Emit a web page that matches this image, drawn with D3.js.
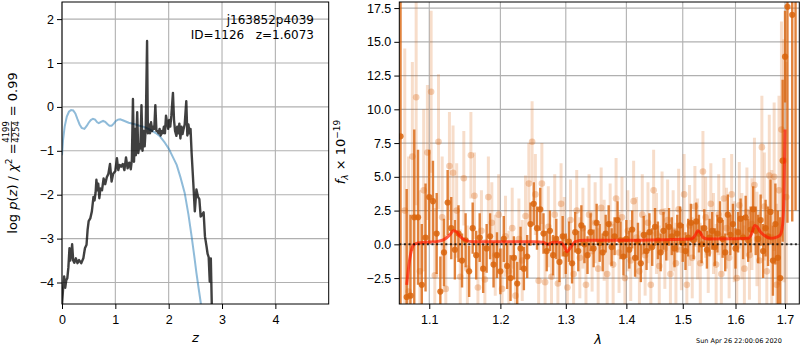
<!DOCTYPE html>
<html>
<head>
<meta charset="utf-8">
<script src="https://cdn.jsdelivr.net/npm/d3@7"></script>
<style>
  body { margin: 0; background: #fff; }
  svg { font-family: "DejaVu Sans", sans-serif; }
  .tick text { font-size: 12.5px; fill: #000; }
</style>
</head>
<body>
<svg id="fig" width="800" height="350"></svg>
<script>
// ---- left panel: log p(z) ----
const zBlack = [0.00,0.02,0.04,0.06,0.08,0.10,0.12,0.14,0.155,0.17,0.19,0.21,0.23,0.26,0.29,0.32,0.36,0.40,0.43,0.46,
  0.48,0.50,0.53,0.56,0.59,0.61,0.63,0.645,0.665,0.68,0.70,0.72,0.75,0.78,0.81,0.84,0.87,0.90,0.93,0.96,
  1.00,1.03,1.055,1.08,1.11,1.14,1.17,1.20,1.23,1.26,1.29,1.31,1.33,1.35,1.37,1.385,1.41,1.43,1.45,1.47,
  1.49,1.51,1.53,1.55,1.57,1.595,1.61,1.63,1.65,1.67,1.69,1.71,1.73,1.75,1.77,1.79,1.81,1.83,1.85,1.87,
  1.89,1.91,1.93,1.95,1.97,1.99,2.01,2.03,2.05,2.08,2.10,2.12,2.145,2.16,2.18,2.20,2.22,2.24,2.26,2.28,
  2.30,2.33,2.35,2.37,2.39,2.41,2.43,2.46,2.49,2.52,2.55,2.575,2.60,2.63,2.655,2.68,2.71,2.73,2.75,2.77,
  2.79,2.81]
const lnpBlack = [-4.5,-4.15,-3.86,-4.12,-3.95,-3.9,-3.65,-3.22,-3.5,-3.4,-3.13,-3.5,-3.55,-3.45,-3.56,-3.49,-3.56,-3.45,-3.22,-3.14,
  -2.8,-2.6,-2.54,-2.38,-2.05,-2.13,-1.95,-1.66,-1.9,-1.75,-2.08,-1.86,-1.9,-1.63,-1.76,-1.6,-1.52,-1.3,-1.7,-1.52,
  -1.46,-1.17,-1.44,-1.32,-1.36,-1.3,-1.44,-1.15,-1.4,-1.27,-1.42,-1.2,0.18,-1.25,-0.5,-1.1,-0.12,-1.05,-0.85,-0.95,
  0.04,-1.0,-0.55,-0.9,-0.45,1.5,-0.6,-0.4,-0.6,-0.35,-0.55,-0.45,-0.5,0.04,-0.55,-0.55,-0.6,-0.5,-0.65,-0.55,
  -0.6,-0.45,-0.6,-0.2,-0.35,-0.5,-0.3,-0.45,-0.2,0.32,-0.3,-0.55,-0.66,-0.45,-0.6,-0.38,-0.72,-0.45,-0.62,-0.5,
  -0.4,0.13,-0.65,-0.4,-0.6,-0.5,-1.05,-1.7,-2.38,-1.88,-2.05,-2.1,-2.5,-2.45,-2.4,-2.95,-3.18,-3.35,-3.42,-3.98,
  -3.45,-4.6]
const zBlue = [0,0.02,0.05,0.09,0.13,0.17,0.21,0.25,0.29,0.33,0.37,0.42,0.46,0.50,0.54,0.58,0.62,0.66,0.69,0.73,
  0.77,0.81,0.85,0.89,0.93,0.97,1.01,1.05,1.09,1.15,1.25,1.35,1.45,1.55,1.65,1.75,1.83,1.92,2.0,2.07,
  2.15,2.22,2.30,2.37,2.43,2.48,2.52,2.56,2.60,2.62]
const lnpBlue = [-1.1,-0.75,-0.45,-0.22,-0.11,-0.07,-0.08,-0.15,-0.28,-0.40,-0.48,-0.5,-0.44,-0.36,-0.3,-0.27,-0.29,-0.35,-0.37,-0.34,
  -0.32,-0.34,-0.39,-0.43,-0.43,-0.38,-0.32,-0.29,-0.28,-0.31,-0.36,-0.39,-0.43,-0.46,-0.52,-0.59,-0.66,-0.8,-0.95,-1.12,
  -1.32,-1.6,-1.96,-2.45,-2.95,-3.4,-3.78,-4.12,-4.45,-4.65]
const zTicks = [0, 1, 2, 3, 4]
const lnpTicks = [-4, -3, -2, -1, 0, 1, 2]

// ---- right panel: spectrum ----
const darkLam = [1.062,1.070,1.075,1.080,1.085,1.090,1.095,1.100,1.105,1.110,1.115,1.120,1.125,1.130,1.135,1.140,1.145,1.150,1.155,1.160,
  1.165,1.170,1.175,1.180,1.185,1.190,1.195,1.200,1.205,1.210,1.215,1.220,1.225,1.230,1.235,1.240,1.245,1.250,1.255,1.260,
  1.265,1.270,1.275,1.280,1.285,1.290,1.295,1.300,1.305,1.310,1.315,1.320,1.325,1.330,1.335,1.340,1.345,1.350,1.355,1.360,
  1.365,1.370,1.375,1.380,1.385,1.390,1.395,1.400,1.405,1.410,1.415,1.420,1.425,1.430,1.435,1.440,1.445,1.450,1.455,1.460,
  1.465,1.470,1.475,1.480,1.485,1.490,1.495,1.500,1.505,1.510,1.515,1.520,1.525,1.530,1.535,1.540,1.545,1.550,1.555,1.560,
  1.565,1.570,1.575,1.580,1.585,1.590,1.595,1.600,1.605,1.610,1.615,1.620,1.625,1.630,1.635,1.640,1.645,1.650,1.655,1.660,
  1.665,1.670,1.675,1.680,1.685,1.690,1.695,1.700,1.705,1.715,1.722]
const darkFlux = [8.0,-3.9,-3.8,2.0,2.0,-3.0,0.5,3.5,3.2,0.8,-3.5,-0.6,3.1,1.2,-0.4,0.8,-1.2,0.3,-2.0,1.2,
  -0.8,0.5,-1.8,-0.3,0.6,-1.5,-0.8,-2.0,0.4,-1.6,-2.5,-1.0,-2.9,-0.3,-1.8,-0.9,1.5,3.0,1.2,2.6,
  0.8,-0.5,1.0,-0.8,0.4,-1.3,0.6,-0.7,0.2,-1.4,0.9,-0.5,1.4,0.0,-0.8,0.9,-0.3,1.6,0.1,-0.6,
  0.8,1.5,-0.2,0.6,1.8,0.3,-0.9,0.4,-0.4,1.1,-1.0,0.2,-1.4,0.7,-0.5,0.9,-0.2,1.3,0.3,-0.6,
  1.0,0.2,1.3,0.6,-0.3,0.8,1.4,0.1,-0.5,0.5,1.6,0.3,1.7,0.8,0.0,1.2,-0.4,0.5,1.0,-0.2,
  0.8,1.8,0.4,-0.6,2.2,0.7,1.5,-0.3,0.9,1.9,0.5,2.0,0.3,1.1,2.6,1.0,0.4,1.8,-0.5,1.2,
  0.6,2.4,-1.2,1.5,-1.0,-2.5,6.2,13.9,17.6,17.0,18.5]
const darkErr = [30,8,6,6.5,5,4.5,4,3.5,3,3,2.6,2.5,2.4,2.3,2.2,2.1,2.0,2.0,1.9,1.9,
  1.8,1.8,1.8,1.8,1.7,1.7,1.7,1.7,1.7,1.7,1.7,1.6,1.6,1.6,1.6,1.6,1.6,1.6,1.6,1.6,
  1.5,1.5,1.5,1.5,1.5,1.5,1.5,1.5,1.5,1.5,1.5,1.5,1.5,1.4,1.4,1.4,1.4,1.4,1.4,1.4,
  1.4,1.4,1.4,1.4,1.4,1.4,1.4,1.4,1.4,1.4,1.4,1.4,1.4,1.4,1.4,1.4,1.4,1.4,1.4,1.4,
  1.4,1.4,1.4,1.4,1.4,1.4,1.4,1.4,1.4,1.4,1.4,1.4,1.4,1.4,1.4,1.4,1.4,1.4,1.4,1.4,
  1.4,1.4,1.4,1.4,1.5,1.5,1.5,1.5,1.5,1.5,1.6,1.6,1.6,1.7,1.7,1.8,1.8,1.9,2.0,2.1,
  2.2,2.4,2.6,3.0,3.5,4.5,6,3.4,16,15.3,16]

const lightLam = [1.0675,1.0725,1.0775,1.0825,1.0875,1.0925,1.0975,1.1025,1.1075,1.1125,1.1175,1.1225,1.1275,1.1325,1.1375,1.1425,1.1475,1.1525,1.1575,1.1625,
  1.1675,1.1725,1.1775,1.1825,1.1875,1.1925,1.1975,1.2025,1.2075,1.2125,1.2175,1.2225,1.2275,1.2325,1.2375,1.2425,1.2475,1.2525,1.2575,1.2625,
  1.2675,1.2725,1.2775,1.2825,1.2875,1.2925,1.2975,1.3025,1.3075,1.3125,1.3175,1.3225,1.3275,1.3325,1.3375,1.3425,1.3475,1.3525,1.3575,1.3625,
  1.3675,1.3725,1.3775,1.3825,1.3875,1.3925,1.3975,1.4025,1.4075,1.4125,1.4175,1.4225,1.4275,1.4325,1.4375,1.4425,1.4475,1.4525,1.4575,1.4625,
  1.4675,1.4725,1.4775,1.4825,1.4875,1.4925,1.4975,1.5025,1.5075,1.5125,1.5175,1.5225,1.5275,1.5325,1.5375,1.5425,1.5475,1.5525,1.5575,1.5625,
  1.5675,1.5725,1.5775,1.5825,1.5875,1.5925,1.5975,1.6025,1.6075,1.6125,1.6175,1.6225,1.6275,1.6325,1.6375,1.6425,1.6475,1.6525,1.6575,1.6625,
  1.6675,1.6725,1.6775,1.6825,1.6875,1.6925,1.6975,1.7025]
const lightFlux = [2.5,-3.5,6.5,10.9,-2.0,4.0,6.8,11.3,-2.3,7.6,2.0,-3.3,5.8,5.3,2.5,-2.4,4.9,-1.8,6.6,3.6,
  -3.2,1.0,-2.6,3.5,1.6,-0.8,2.2,-3.3,0.6,-2.0,1.2,-3.8,0.4,-1.2,2.1,4.5,7.6,3.7,-2.7,4.5,
  -2.8,1.3,-2.4,2.2,-2.9,3.0,0.5,-3.2,1.8,-2.2,2.5,-1.0,1.2,-3.0,2.2,-0.5,1.6,-1.8,2.7,0.3,
  -2.2,1.5,-1.5,3.4,-0.6,2.0,-2.5,1.0,-1.2,3.2,0.5,-2.0,2.2,-0.8,1.6,-3.0,4.0,0.8,-1.6,2.4,
  -0.3,1.8,-2.2,1.0,-1.4,2.6,-0.4,3.7,-3.0,1.4,-1.0,2.8,0.4,-1.4,5.4,2.0,-0.6,3.0,0.8,-1.5,
  2.2,-2.2,3.4,1.2,-1.0,3.7,0.2,-2.5,2.9,0.6,-1.8,2.4,-0.8,1.5,4.4,0.4,-1.2,7.2,2.8,-2.0,
  5.1,0.5,5.0,-3.0,4.0,8.5,6.2,3.5]
const lightErr = [12,10,7,8,6,6,5,6,5,5,4.5,4,4,3.5,3.5,3.5,3.5,3.2,3.2,3.2,
  3.2,3,3,3,3,3,3,3,3,3,3,3,3,3,3,3,3,3,3,3,
  3,3,3,3,3,3,3,3,3,3,3,3,3,3,3,3,3,3,3,3,
  3,3,3,3,3,3,3,3,3,3,3,3,3,3,3,3,3,3,3,3,
  3,3,3,3,3,3,3,3,3,3,3,3,3,3,3,3,3,3,3,3,
  3,3,3,3,3,3,3,3.2,3.2,3.2,3.2,3.3,3.3,3.4,3.5,3.5,3.6,3.8,4,4.2,
  4.5,5,5.5,6,7,8,9,10]

const modelLam = [1.070,1.073,1.076,1.080,1.085,1.095,1.110,1.120,1.128,1.133,1.137,1.142,1.150,1.160,1.200,1.250,1.265,1.272,1.280,1.290,
  1.297,1.302,1.308,1.315,1.330,1.400,1.500,1.515,1.522,1.528,1.533,1.538,1.545,1.600,1.625,1.632,1.638,1.643,1.650,1.660,
  1.670,1.680,1.690,1.695,1.698,1.700]
const modelFlux = [-3.0,-1.5,-0.5,0.0,0.1,0.15,0.2,0.35,0.7,1.0,0.95,0.6,0.3,0.2,0.2,0.2,0.15,0.0,0.15,0.15,
  -0.1,-0.55,-0.2,0.2,0.3,0.3,0.38,0.4,0.6,1.0,0.85,0.5,0.4,0.42,0.45,0.8,1.4,1.3,0.9,0.6,
  0.45,0.5,0.7,1.5,4.0,8.5]
const lamTicks = [1.1, 1.2, 1.3, 1.4, 1.5, 1.6, 1.7]
const fluxTicks = [-2.5, 0, 2.5, 5, 7.5, 10, 12.5, 15, 17.5]

const svg = d3.select('#fig')
const gridColor = '#b0b0b0'
const orange = '#d9640c'

// panel boxes
const L = { x: 62, y: 2, w: 266.7, h: 302 }
const R = { x: 399.3, y: 2, w: 400, h: 302 }

const xL = d3.scaleLinear().domain([0, 5]).range([L.x, L.x + L.w])
const yL = d3.scaleLinear().domain([-4.49, 2.39]).range([L.y + L.h, L.y])
const xR = d3.scaleLog().domain([1.0604, 1.7299]).range([R.x, R.x + R.w])
const yR = d3.scaleLinear().domain([-4.42, 17.95]).range([R.y + R.h, R.y])

const defs = svg.append('defs')
defs.append('clipPath').attr('id', 'clipL').append('rect')
  .attr('x', L.x).attr('y', L.y).attr('width', L.w).attr('height', L.h)
defs.append('clipPath').attr('id', 'clipR').append('rect')
  .attr('x', R.x).attr('y', R.y).attr('width', R.w).attr('height', R.h)

function grid(box, xs, ys, xt, yt) {
  const g = svg.append('g').attr('stroke', gridColor).attr('stroke-width', 1.1)
  g.selectAll('.gx').data(xt).enter().append('line')
    .attr('x1', d => xs(d)).attr('x2', d => xs(d))
    .attr('y1', box.y).attr('y2', box.y + box.h)
  g.selectAll('.gy').data(yt).enter().append('line')
    .attr('y1', d => ys(d)).attr('y2', d => ys(d))
    .attr('x1', box.x).attr('x2', box.x + box.w)
}

function axes(box, xs, ys, xt, yt, xfmt, yfmt) {
  const ax = svg.append('g').attr('transform', `translate(0,${box.y + box.h})`)
    .call(d3.axisBottom(xs).tickValues(xt).tickFormat(xfmt).tickSizeOuter(0).tickSize(5).tickPadding(6))
  const ay = svg.append('g').attr('transform', `translate(${box.x},0)`)
    .call(d3.axisLeft(ys).tickValues(yt).tickFormat(yfmt).tickSizeOuter(0).tickSize(5).tickPadding(3))
  ax.select('.domain').remove()
  ay.select('.domain').remove()
  ax.selectAll('.tick text').attr('font-family', null).attr('font-size', null)
  ay.selectAll('.tick text').attr('font-family', null).attr('font-size', null)
  svg.append('rect').attr('x', box.x).attr('y', box.y).attr('width', box.w).attr('height', box.h)
    .attr('fill', 'none').attr('stroke', '#000').attr('stroke-width', 1)
}

// ---------- left panel ----------
grid(L, xL, yL, zTicks, lnpTicks)
const lineL = d3.line().x(d => xL(d[0])).y(d => yL(d[1]))
const gL = svg.append('g').attr('clip-path', 'url(#clipL)')
gL.append('path').datum(d3.zip(zBlue, lnpBlue)).attr('d', lineL)
  .attr('fill', 'none').attr('stroke', '#1f77b4').attr('stroke-opacity', 0.5).attr('stroke-width', 2)
gL.append('path').datum(d3.zip(zBlack, lnpBlack)).attr('d', lineL)
  .attr('fill', 'none').attr('stroke', '#000').attr('stroke-opacity', 0.75).attr('stroke-width', 2.4)
  .attr('stroke-linejoin', 'round')
axes(L, xL, yL, zTicks, lnpTicks, d3.format('d'), d3.format('d'))

svg.append('text').attr('x', 314).attr('y', 24).attr('text-anchor', 'end')
  .attr('font-size', 12).text('j163852p4039')
svg.append('text').attr('x', 314).attr('y', 39).attr('text-anchor', 'end')
  .attr('font-size', 12).style('white-space', 'pre').text('ID=1126   z=1.6073')

svg.append('text').attr('x', xL(2.5)).attr('y', 342).attr('text-anchor', 'middle')
  .attr('font-size', 13).attr('font-style', 'italic').text('z')

// left y label (rotated, with fraction)
const yl = svg.append('g').attr('transform', 'translate(17,153) rotate(-90)')
const t1 = yl.append('text').attr('font-size', 13).attr('x', 0).attr('y', 0)
t1.append('tspan').text('log ')
t1.append('tspan').attr('font-style', 'italic').text('p')
t1.append('tspan').text('(')
t1.append('tspan').attr('font-style', 'italic').text('z')
t1.append('tspan').text(') / ')
t1.append('tspan').attr('font-style', 'italic').text('χ')
t1.append('tspan').attr('font-size', 9).attr('dy', -5).text('2')
t1.append('tspan').attr('dy', 5).text(' = ')
const w1 = t1.node().getComputedTextLength()
const fw = 21
const fx = w1 + 1
yl.append('text').attr('x', fx + fw / 2).attr('y', -7.6).attr('text-anchor', 'middle')
  .attr('font-size', 8.5).text('4199')
yl.append('text').attr('x', fx + fw / 2).attr('y', 1.6).attr('text-anchor', 'middle')
  .attr('font-size', 8.5).text('4254')
yl.append('line').attr('x1', fx).attr('x2', fx + fw).attr('y1', -5.6).attr('y2', -5.6)
  .attr('stroke', '#000').attr('stroke-width', 0.8)
const t2 = yl.append('text').attr('font-size', 13).attr('x', fx + fw + 1).attr('y', 0)
  .style('white-space', 'pre').text(' = 0.99')
const total = fx + fw + 1 + t2.node().getComputedTextLength()
yl.selectAll('text, line').attr('transform', `translate(${-total / 2},0)`)

// ---------- right panel ----------
grid(R, xR, yR, lamTicks, fluxTicks)
const gR = svg.append('g').attr('clip-path', 'url(#clipR)')

const light = d3.zip(lightLam, lightFlux, lightErr)
gR.append('g').selectAll('line').data(light).enter().append('line')
  .attr('x1', d => xR(d[0])).attr('x2', d => xR(d[0]))
  .attr('y1', d => yR(d[1] - d[2])).attr('y2', d => yR(d[1] + d[2]))
  .attr('stroke', orange).attr('stroke-opacity', 0.22).attr('stroke-width', 3)
gR.append('g').selectAll('circle').data(light).enter().append('circle')
  .attr('cx', d => xR(d[0])).attr('cy', d => yR(d[1])).attr('r', 3.3)
  .attr('fill', orange).attr('fill-opacity', 0.3)

const dark = d3.zip(darkLam, darkFlux, darkErr)
gR.append('g').selectAll('line').data(dark).enter().append('line')
  .attr('x1', d => xR(d[0])).attr('x2', d => xR(d[0]))
  .attr('y1', d => yR(d[1] - d[2])).attr('y2', d => yR(d[1] + d[2]))
  .attr('stroke', orange).attr('stroke-opacity', 0.8).attr('stroke-width', 2.4)
gR.append('g').selectAll('circle').data(dark).enter().append('circle')
  .attr('cx', d => xR(d[0])).attr('cy', d => yR(d[1])).attr('r', 3.1)
  .attr('fill', orange).attr('fill-opacity', 0.85)

const lineR = d3.line().x(d => xR(d[0])).y(d => yR(d[1])).curve(d3.curveMonotoneX)
gR.append('path').datum(d3.zip(modelLam, modelFlux)).attr('d', lineR)
  .attr('fill', 'none').attr('stroke', '#ff1a00').attr('stroke-opacity', 0.7).attr('stroke-width', 3)

gR.append('line').attr('x1', R.x).attr('x2', R.x + R.w).attr('y1', yR(0)).attr('y2', yR(0))
  .attr('stroke', '#000').attr('stroke-opacity', 0.8).attr('stroke-width', 2).attr('stroke-dasharray', '2,2.6')

axes(R, xR, yR, lamTicks, fluxTicks, d3.format('.1f'), d3.format('.1f'))

svg.append('text').attr('x', 598).attr('y', 344).attr('text-anchor', 'middle')
  .attr('font-size', 13).attr('font-style', 'italic').text('λ')

const yr = svg.append('text').attr('font-size', 13)
  .attr('transform', 'translate(345,152) rotate(-90)').attr('text-anchor', 'middle')
yr.append('tspan').attr('font-style', 'italic').text('f')
yr.append('tspan').attr('font-size', 9).attr('font-style', 'italic').attr('dy', 3).text('λ')
yr.append('tspan').attr('dy', -3).text(' × 10')
yr.append('tspan').attr('font-size', 9).attr('dy', -5).text('−19')

svg.append('text').attr('x', 696).attr('y', 343).attr('font-size', 6.5)
  .text('Sun Apr 26 22:00:06 2020')
</script>
</body>
</html>
